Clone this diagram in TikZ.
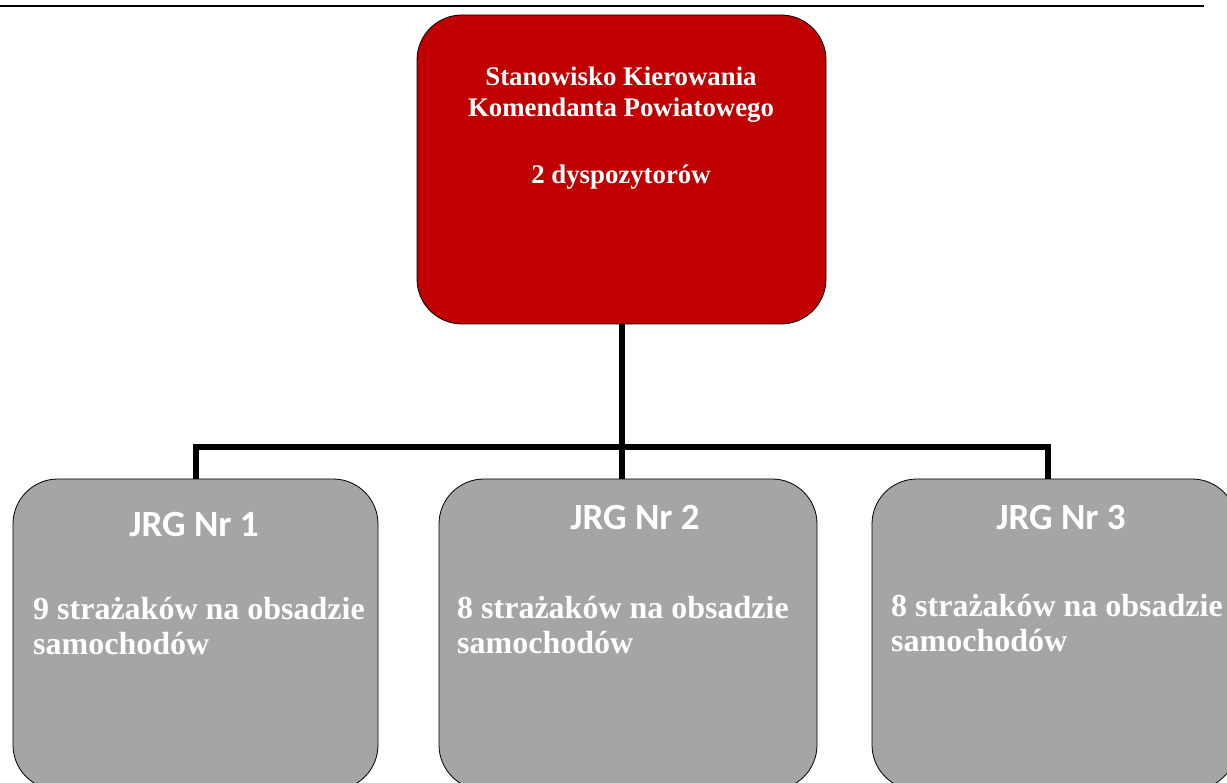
\documentclass[tikz,border=0pt]{standalone}
\usepackage{fontspec}
\setmainfont{Liberation Serif}
\newfontfamily\calibri{Carlito}
\usetikzlibrary{positioning}
\usetikzlibrary{calc}

\definecolor{headred}{RGB}{192,0,0}
\definecolor{unitgray}{RGB}{165,165,165}

\tikzset{
  headbox/.style={draw=black, fill=headred, rounded corners=45pt, line width=0.8pt,
    minimum width=409pt, minimum height=309pt},
  unitbox/.style={draw=black, fill=unitgray, rounded corners=45pt, line width=0.8pt,
    minimum height=311pt},
  conn/.style={line width=6pt},
  headtext/.style={text=white, inner sep=0pt, align=center,
    font=\bfseries\fontsize{26.8}{31}\selectfont},
  unittitle/.style={text=white, inner sep=0pt, font=\calibri\bfseries\fontsize{37}{42}\selectfont},
  unittext/.style={text=white, inner sep=0pt, align=left,
    font=\bfseries\fontsize{32}{35}\selectfont},
}

\begin{document}
\begin{tikzpicture}[x=1pt, y=1pt]
\useasboundingbox (0,0) rectangle (1227,783);
\clip (0,0) rectangle (1227,783);
\draw[line width=2pt] (0,777) -- (1204,777);

% boxes
\node[headbox] (head) at (621.5,613.5) {};
\node[unitbox, minimum width=365pt] (jrg1) at (195.5,148.5) {};
\node[unitbox, minimum width=378pt] (jrg2) at (628,148.5) {};
\node[unitbox, minimum width=365pt] (jrg3) at (1054.5,148.5) {};

% connectors
\coordinate (bus) at (621.5,336);
\draw[conn] (head.south) -- (head.south |- jrg2.north);
\draw[conn] (jrg1.north) |- (bus) -| ([xshift=-6.5pt]jrg3.north);

% texts
\node[headtext, anchor=north] (headlbl) at (621,716)
  {Stanowisko Kierowania\\Komendanta Powiatowego\\[36pt]2 dyspozytorów};
\node[unittitle, anchor=base] (name1) at (194,246) {JRG Nr 1};
\node[unittitle, anchor=base] (name2) at (635,253) {JRG Nr 2};
\node[unittitle, anchor=base] (name3) at (1061,253) {JRG Nr 3};
\node[unittext, anchor=north west] (crew1) at (33,186) {9 strażaków na obsadzie\\samochodów};
\node[unittext, anchor=north west] (crew2) at (457,187) {8 strażaków na obsadzie\\samochodów};
\node[unittext, anchor=north west] (crew3) at (891,189) {8 strażaków na obsadzie\\samochodów};
\end{tikzpicture}
\end{document}
